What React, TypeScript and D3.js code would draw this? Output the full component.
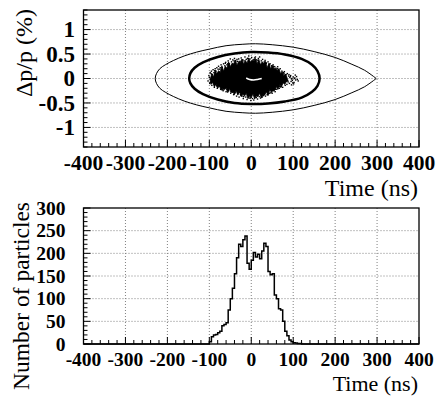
import React from 'react';
import * as d3 from 'd3';

// ---------- data ----------
const xTicks = [-400, -300, -200, -100, 0, 100, 200, 300, 400];
const dpTicks = [-1, -0.5, 0, 0.5, 1];
const dpTickLabels = ['-1', '-0.5', '0', '0.5', '1'];
const countTicks = [0, 50, 100, 150, 200, 250, 300];

// histogram: 5 ns bins starting at -100 ns
const binStart = -100;
const binWidth = 5;
const counts = [
  5, 16, 20, 21, 25, 28, 40, 43, 47, 75,
  100, 123, 155, 190, 220, 215, 230, 238, 178, 165,
  185, 202, 192, 198, 188, 205, 222, 215, 160, 153,
  155, 108, 100, 78, 75, 50, 28, 18, 9, 5,
  3, 2, 1, 1,
];

// separatrix (outer thin curve), upper half from left tip to right cusp
const sepT = [-229, -226, -218, -205, -185, -160, -130, -100, -60, -20, 10, 50, 100, 150, 200, 240, 270, 298];
const sepDp = [0, 0.1, 0.2, 0.28, 0.37, 0.46, 0.54, 0.6, 0.67, 0.7, 0.71, 0.69, 0.64, 0.55, 0.43, 0.29, 0.17, 0];

// thick inner contour (closed)
const ellT = [-148, -145, -135, -115, -80, -40, 0, 40, 80, 120, 145, 158, 163, 158, 145, 120, 80, 40, 0, -40, -80, -115, -135, -145];
const ellDp = [0, 0.11, 0.22, 0.33, 0.44, 0.51, 0.54, 0.53, 0.49, 0.4, 0.28, 0.15, 0, -0.15, -0.27, -0.39, -0.47, -0.51, -0.52, -0.5, -0.43, -0.32, -0.21, -0.1];

// dense particle core outline (ragged), top edge left->right then bottom edge right->left
const cloudT = [
  -98, -94, -90, -86, -82, -78, -74, -70, -66, -62, -58, -54, -50, -46, -42, -38, -34, -30, -26, -22, -18, -14, -10, -6, -2, 2, 6, 10, 14, 18, 22, 26, 30, 34, 38, 42, 46, 50, 54, 58, 62, 66, 70, 74, 78, 82, 86,
  88, 84, 80, 76, 72, 68, 64, 60, 56, 52, 48, 44, 40, 36, 32, 28, 24, 20, 16, 12, 8, 4, 0, -4, -8, -12, -16, -20, -24, -28, -32, -36, -40, -44, -48, -52, -56, -60, -64, -68, -72, -76, -80, -84, -88, -92, -96,
];
const cloudDp = [
  -0.02, 0.1, 0.03, 0.17, 0.09, 0.16, 0.13, 0.26, 0.15, 0.25, 0.21, 0.34, 0.24, 0.31, 0.3, 0.38, 0.27, 0.35, 0.33, 0.4, 0.29, 0.37, 0.31, 0.42, 0.33, 0.38, 0.36, 0.41, 0.3, 0.39, 0.28, 0.34, 0.31, 0.35, 0.22, 0.31, 0.2, 0.27, 0.21, 0.2, 0.17, 0.2, 0.1, 0.14, 0.05, 0.09, 0.0,
  -0.05, -0.06, -0.12, -0.09, -0.17, -0.13, -0.22, -0.17, -0.24, -0.25, -0.28, -0.23, -0.35, -0.27, -0.34, -0.33, -0.4, -0.3, -0.37, -0.36, -0.42, -0.31, -0.4, -0.36, -0.41, -0.3, -0.36, -0.32, -0.37, -0.26, -0.34, -0.25, -0.33, -0.27, -0.28, -0.21, -0.29, -0.2, -0.23, -0.21, -0.24, -0.15, -0.2, -0.11, -0.17, -0.08, -0.12,
];

// sparse particles around the core
const dotT = [
  -103, -101, -99, -98, -97, -95, -94, -93, -91, -90, -89, -88, -86, -85, -84, -82, -81, -80, -78, -76, -75, -73, -72, -70, -69, -67, -66, -64, -63, -61, -60, -58, -57, -55, -54, -52, -50, -49, -47, -45, -44, -42, -40, -39, -37, -35, -34, -32, -30, -29, -27, -25, -24, -22, -20, -19, -17, -15, -13, -12, -10, -8, -6, -5, -3, -1, 1, 3, 5, 6, 8, 10, 12, 13, 15, 17, 19, 20, 22, 24, 26, 27, 29, 31, 33, 34, 36, 38, 40, 41, 43, 45, 47, 48, 50, 52, 54, 56, 57, 59, 61, 63, 65, 67, 69, 71, 73, 75, 77, 79, 81, 83, 85, 86, 88, 89, 91, 92, 94, 95, 97, 98, 100, 102, 104, 106, 108, 110,
  -100, -96, -92, -87, -83, -79, -74, -68, -62, -56, -48, -41, -33, -26, -18, -9, -2, 7, 16, 25, 35, 44, 53, 62, 70, 78, 84, 90, 96, 103, -98, -86, -77, -65, -53, -43, -28, -14, 0, 11, 28, 42, 58, 68, 80, 93, 99, 105, 112, 101, 96,
];
const dotDp = [
  -0.05, 0.06, -0.1, 0.12, -0.02, 0.15, -0.14, 0.08, 0.18, -0.08, 0.12, -0.18, 0.2, -0.12, 0.15, 0.22, -0.2, 0.1, 0.25, -0.15, 0.19, -0.22, 0.28, -0.18, 0.22, -0.25, 0.3, -0.2, 0.26, 0.33, -0.27, 0.28, -0.22, 0.36, -0.25, 0.3, 0.4, -0.3, 0.34, -0.28, 0.38, -0.33, 0.41, -0.29, 0.36, -0.36, 0.39, -0.31, 0.4, -0.38, 0.35, -0.34, 0.42, -0.36, 0.38, -0.41, 0.36, 0.44, -0.38, 0.39, -0.43, 0.41, 0.46, -0.4, 0.4, -0.45, 0.43, -0.41, 0.38, -0.44, 0.42, 0.44, -0.39, 0.38, -0.42, 0.41, -0.37, 0.44, -0.4, 0.36, -0.38, 0.39, -0.35, 0.34, 0.37, -0.36, 0.31, -0.33, 0.34, -0.31, 0.29, 0.3, -0.29, 0.26, -0.3, 0.28, -0.25, 0.24, -0.27, 0.21, -0.22, 0.24, 0.18, -0.2, 0.2, -0.17, 0.15, -0.18, 0.12, 0.14, -0.14, 0.08, -0.12, 0.1, -0.07, 0.05, -0.1, 0.02, 0.06, -0.06, 0.0, -0.04, 0.03, -0.08, 0.01, -0.03, 0.04, -0.02,
  0.02, 0.1, -0.05, 0.16, -0.15, 0.19, 0.22, -0.23, 0.31, 0.3, -0.27, 0.36, 0.35, -0.32, -0.37, 0.41, -0.4, 0.39, 0.37, -0.36, 0.32, -0.3, 0.25, 0.2, -0.17, 0.1, -0.05, 0.08, -0.01, 0.0, -0.08, 0.09, -0.13, -0.17, 0.27, -0.24, -0.28, 0.3, 0.33, -0.33, 0.28, 0.25, -0.22, -0.16, 0.07, 0.04, -0.09, 0.07, -0.05, -0.11, -0.13,
];

// white empty arc in the centre
const holeT = [-12, -4, 6, 15, 25];
const holeDp = [0.01, -0.02, -0.03, -0.02, 0.0];

// ---------- layout ----------
const W = 436;
const H = 399;
const left = 83.5;
const right = 419;
const top1 = 10;
const bot1 = 147;
const top2 = 208;
const bot2 = 344;

const labelFont = "'Liberation Serif', 'Times New Roman', Times, serif";

function Frame({ x, y, yTicks, yLabels, yMinor, f }: any) {
  const xMinor = d3.range(-400, 401, 20);
  const y0 = y.range()[0];
  const yTop = y.range()[1];
  return (
    <g>
      {xTicks.slice(1, -1).map((t) => (
        <line key={'gx' + t} x1={x(t)} x2={x(t)} y1={yTop} y2={y0} stroke="#808080" strokeWidth={1} strokeDasharray="1,2" />
      ))}
      {yTicks.map((t: number) => (
        (y(t) > yTop + 1 && y(t) < y0 - 1) ? (
          <line key={'gy' + t} x1={left} x2={right} y1={y(t)} y2={y(t)} stroke="#808080" strokeWidth={1} strokeDasharray="1,2" />
        ) : null
      ))}
      {xMinor.map((t) => (
        <line key={'tx' + t} x1={x(t)} x2={x(t)} y1={y0} y2={y0 - (t % 100 === 0 ? 7 : 4)} stroke="#000" strokeWidth={1} />
      ))}
      {yMinor.map((t: number) => (
        <line key={'ty' + t} x1={left} x2={left + (yTicks.some((m: number) => Math.abs(m - t) < 1e-6) ? 7 : 4)} y1={y(t)} y2={y(t)} stroke="#000" strokeWidth={1} />
      ))}
      <rect x={left} y={yTop} width={right - left} height={y0 - yTop} fill="none" stroke="#000" strokeWidth={1.3} />
      {xTicks.map((t) => (
        <text key={'lx' + t} x={x(t)} y={f.xLabelY} textAnchor="middle" fontFamily={labelFont} fontWeight="bold" fontSize={f.xLabel}>{t}</text>
      ))}
      {yTicks.map((t: number, i: number) => (
        <text key={'ly' + t} x={f.yLabelX} y={y(t) + f.yLabel * 0.34} textAnchor="end" fontFamily={labelFont} fontWeight="bold" fontSize={f.yLabel}>{yLabels[i]}</text>
      ))}
      <text x={418} y={f.xTitleY} textAnchor="end" fontFamily={labelFont} fontSize={f.xTitle}>Time (ns)</text>
      <text transform={`translate(${f.yTitleX},${f.yTitleEnd}) rotate(-90)`} textAnchor="end" fontFamily={labelFont} fontSize={f.yTitle}>{f.yTitleText}</text>
    </g>
  );
}

export default function App() {
  const x = d3.scaleLinear().domain([-400, 400]).range([left, right]);
  const y1 = d3.scaleLinear().domain([-1.4, 1.4]).range([bot1, top1]);
  const y2 = d3.scaleLinear().domain([0, 300]).range([bot2, top2]);

  const sepPts: [number, number][] = [];
  for (let i = sepT.length - 1; i >= 0; i--) sepPts.push([sepT[i], sepDp[i]]);
  for (let i = 1; i < sepT.length; i++) sepPts.push([sepT[i], -sepDp[i]]);
  const sepLine = d3.line<[number, number]>().x((d) => x(d[0])).y((d) => y1(d[1])).curve(d3.curveCatmullRom.alpha(0.5));

  const ellPts: [number, number][] = ellT.map((t, i) => [t, ellDp[i]]);
  const ellLine = d3.line<[number, number]>().x((d) => x(d[0])).y((d) => y1(d[1])).curve(d3.curveCatmullRomClosed.alpha(0.5));

  const cloudPts: [number, number][] = cloudT.map((t, i) => [t, cloudDp[i]]);
  const cloudLine = d3.line<[number, number]>().x((d) => x(d[0])).y((d) => y1(d[1])).curve(d3.curveLinearClosed);

  const holePts: [number, number][] = holeT.map((t, i) => [t, holeDp[i]]);
  const holeLine = d3.line<[number, number]>().x((d) => x(d[0])).y((d) => y1(d[1])).curve(d3.curveCatmullRom);

  const histPts: [number, number][] = [[-400, 0], [binStart, 0]];
  counts.forEach((c, i) => histPts.push([binStart + i * binWidth, c]));
  histPts.push([binStart + counts.length * binWidth, 0]);
  histPts.push([400, 0]);
  const histLine = d3.line<[number, number]>().x((d) => x(d[0])).y((d) => y2(d[1])).curve(d3.curveStepAfter);

  const dpMinor = d3.range(-14, 15).map((v) => v / 10);
  const cMinor = d3.range(0, 301, 10);

  const fTop = { xLabel: 21.5, xLabelY: 169.5, yLabel: 23, yLabelX: 75, xTitle: 24, xTitleY: 195.5, yTitle: 24, yTitleX: 32, yTitleEnd: 9, yTitleText: 'Δp/p (%)' };
  const fBot = { xLabel: 19.5, xLabelY: 365.5, yLabel: 19.5, yLabelX: 65.5, xTitle: 22, xTitleY: 391, yTitle: 23.5, yTitleX: 29, yTitleEnd: 202, yTitleText: 'Number of particles' };

  return (
    <svg width={W} height={H} style={{ position: 'absolute', left: 0, top: 0, background: '#fff' }}>
      <rect width={W} height={H} fill="#fff" />
      <Frame x={x} y={y1} yTicks={dpTicks} yLabels={dpTickLabels} yMinor={dpMinor} f={fTop} />
      <g>
        <path d={sepLine(sepPts) || ''} fill="none" stroke="#000" strokeWidth={1} />
        <path d={ellLine(ellPts) || ''} fill="none" stroke="#000" strokeWidth={2.5} />
        <path d={cloudLine(cloudPts) || ''} fill="#000" stroke="#000" strokeWidth={0.8} />
        {dotT.map((t, i) => (
          <rect key={'d' + i} x={x(t) - 0.7} y={y1(dotDp[i]) - 0.7} width={1.4} height={1.4} fill="#000" />
        ))}
        <path d={holeLine(holePts) || ''} fill="none" stroke="#fff" strokeWidth={1.5} />
      </g>
      <Frame x={x} y={y2} yTicks={countTicks} yLabels={countTicks.map(String)} yMinor={cMinor} f={fBot} />
      <path d={histLine(histPts) || ''} fill="none" stroke="#000" strokeWidth={1.5} />
    </svg>
  );
}
